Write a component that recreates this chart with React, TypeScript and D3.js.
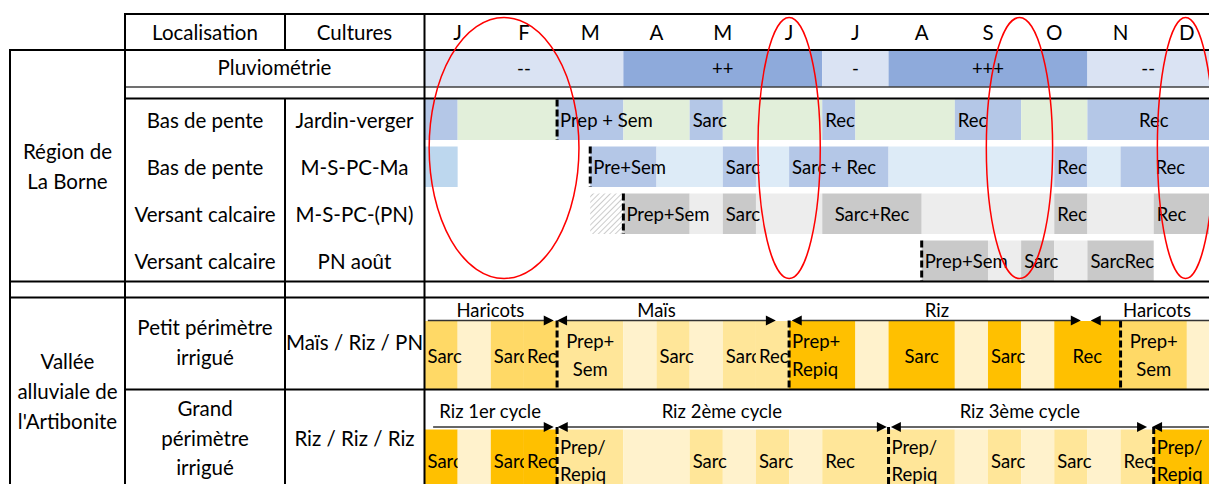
import React from 'react';
import * as d3 from 'd3';

// ---- data (positions in half-months: 0 = early January, 24 = end of December)

const months = ['J', 'F', 'M', 'A', 'M', 'J', 'J', 'A', 'S', 'O', 'N', 'D'];

// [start, end, level, label]
const rainfall: [number, number, string, string][] = [
  [0, 6, 'low', '--'],
  [6, 12, 'high', '++'],
  [12, 14, 'low', '-'],
  [14, 20, 'high', '+++'],
  [20, 24, 'low', '--'],
];

// [start, end, kind, label, centered]
type Cell = [number, number, string, string?, boolean?];

const jardinVerger: Cell[] = [
  [0, 1, 'op'], [1, 4, 'grow'], [4, 6, 'op', 'Prep + Sem'], [6, 8, 'grow'],
  [8, 9, 'op', 'Sarc'], [9, 12, 'grow'], [12, 13, 'op', 'Rec'], [13, 16, 'grow'],
  [16, 18, 'op', 'Rec'], [18, 20, 'grow'], [20, 24, 'op', 'Rec', true],
];

const msPcMa: Cell[] = [
  [0, 1, 'prev'], [5, 7, 'op', 'Pre+Sem'], [7, 9, 'grow'], [9, 10, 'op', 'Sarc'],
  [10, 11, 'grow'], [11, 14, 'op', 'Sarc + Rec'], [14, 19, 'grow'], [19, 20, 'op', 'Rec'],
  [20, 21, 'grow'], [21, 24, 'op', 'Rec', true],
];

const msPcPn: Cell[] = [
  [5, 6, 'fallow'], [6, 8, 'op', 'Prep+Sem'], [8, 9, 'grow'], [9, 10, 'op', 'Sarc'],
  [10, 12, 'grow'], [12, 15, 'op', 'Sarc+Rec', true], [15, 19, 'grow'], [19, 20, 'op', 'Rec'],
  [20, 22, 'grow'], [22, 24, 'op', 'Rec'],
];

const pnAout: Cell[] = [
  [15, 17, 'op', 'Prep+Sem'], [17, 18, 'grow'], [18, 19, 'op', 'Sarc'], [19, 20, 'grow'],
  [20, 22, 'op', 'SarcRec'],
];

const petitPerimetre: Cell[] = [
  [0, 1, 'har', 'Sarc'], [1, 2, 'gap'], [2, 3, 'har', 'Sarc'], [3, 4, 'har', 'Rec'],
  [4, 6, 'mais', 'Prep+\nSem', true], [6, 7, 'gap'], [7, 8, 'mais', 'Sarc'], [8, 9, 'gap'],
  [9, 10, 'mais', 'Sarc'], [10, 11, 'mais', 'Rec'],
  [11, 13, 'riz', 'Prep+\nRepiq'], [13, 14, 'gap'], [14, 16, 'riz', 'Sarc', true], [16, 17, 'gap'],
  [17, 18, 'riz', 'Sarc'], [18, 19, 'gap'], [19, 21, 'riz', 'Rec', true],
  [21, 23, 'har', 'Prep+\nSem', true], [23, 24, 'gap'],
];

const grandPerimetre: Cell[] = [
  [0, 1, 'riz', 'Sarc'], [1, 2, 'gap', ' '], [2, 3, 'riz', 'Sarc'], [3, 4, 'riz', 'Rec'],
  [4, 6, 'rizB', 'Prep/\nRepiq'], [6, 8, 'gap'], [8, 9, 'rizB', 'Sarc'], [9, 10, 'gap'],
  [10, 11, 'rizB', 'Sarc'], [11, 12, 'gap'], [12, 14, 'rizB', 'Rec'],
  [14, 16, 'rizB', 'Prep/\nRepiq'], [16, 17, 'gap'], [17, 18, 'rizB', 'Sarc'], [18, 19, 'gap'],
  [19, 20, 'rizB', 'Sarc'], [20, 21, 'gap'], [21, 22, 'rizB', 'Rec'],
  [22, 24, 'riz', 'Prep/\nRepiq'],
];

// crop cycle arrows: [from, to, label, label centre, heads]
type Arrow = [number, number, string, number, string];
const petitCycles: Arrow[] = [
  [0.1, 3.9, 'Haricots', 1.99, 'r'],
  [4.0, 10.6, 'Maïs', 7.0, 'lr'],
  [11.08, 19.8, 'Riz', 15.46, 'lr'],
  [20.1, 24, 'Haricots', 22.1, 'l'],
];
const grandCycles: Arrow[] = [
  [0.26, 3.9, 'Riz 1er cycle', 1.98, 'r'],
  [4.02, 13.95, 'Riz 2ème cycle', 8.97, 'lr'],
  [14.07, 21.8, 'Riz 3ème cycle', 17.96, 'lr'],
  [21.95, 24, '', 0, 'l'],
];

// highlighted periods: [centre, half width]
const highlights: [number, number][] = [
  [2.4, 2.26],
  [11.0, 0.94],
  [17.95, 1.0],
  [22.96, 0.85],
];

const borneRows = [
  { loc: 'Bas de pente', crop: 'Jardin-verger', cells: jardinVerger, sow: 4 },
  { loc: 'Bas de pente', crop: 'M-S-PC-Ma', cells: msPcMa, sow: 5 },
  { loc: 'Versant calcaire', crop: 'M-S-PC-(PN)', cells: msPcPn, sow: 6 },
  { loc: 'Versant calcaire', crop: 'PN août', cells: pnAout, sow: 15 },
];

const artiRows = [
  { loc: ['Petit périmètre', 'irrigué'], crop: 'Maïs / Riz / PN', cells: petitPerimetre, cycles: petitCycles, sow: [4, 11, 21] },
  { loc: ['Grand', 'périmètre', 'irrigué'], crop: 'Riz / Riz / Riz', cells: grandPerimetre, cycles: grandCycles, sow: [4, 14, 22] },
];

// ---- styles / layout

const W = 1209;
const H = 484;
const FONT = 'Lato, "Open Sans", sans-serif';
const LABEL_SIZE = 20.5;
const CELL_SIZE = 18.5;

const rainColor: Record<string, string> = { low: '#dae3f3', high: '#8eaadb' };
const borneTones = [
  { op: '#b4c7e7', grow: '#e2efda' },
  { op: '#b4c7e7', grow: '#ddebf7', prev: '#bdd7ee' },
  { op: '#c9c9c9', grow: '#ededed', fallow: 'url(#hatch)' },
  { op: '#c9c9c9', grow: '#ededed' },
];
const artiColor: Record<string, string> = {
  har: '#ffd966', mais: '#ffe699', riz: '#ffc000', rizB: '#ffe699', gap: '#fff2cc',
};

const x = d3.scaleLinear().domain([0, 24]).range([424.5, 1220]);

const borneTop = (i: number) => 99.5 + i * 47;
const BORNE_H = 40.5;
const artiLayout = [
  { top: 321, bottom: 389, arrowY: 320.5, labelY: 316.5, single: 363, lines: [348, 376], locY: [335, 365], cropY: 350 },
  { top: 429.5, bottom: 500, arrowY: 427, labelY: 418, single: 468, lines: [454, 481], locY: [416, 446, 475], cropY: 446 },
];

function CellText({ cells, i, row, top, base, lines, id }: any) {
  const c: Cell = cells[i];
  const [s, e, , label, mid] = c;
  if (!label || !label.trim()) return null;
  const parts = label.split('\n');
  const next = cells.slice(i + 1).find((d: Cell) => d[3] !== undefined);
  const clipEnd = next ? x(next[0]) : W;
  const tx = mid ? (x(s) + x(e)) / 2 : x(s) + 3;
  const ys = parts.length > 1 ? lines : [base];
  const clipId = `clip-${id}-${row}-${i}`;
  return (
    <g>
      {!mid && (
        <clipPath id={clipId}>
          <rect x={x(s)} y={top - 30} width={clipEnd - x(s)} height={120} />
        </clipPath>
      )}
      <text
        x={tx}
        textAnchor={mid ? 'middle' : 'start'}
        fontSize={CELL_SIZE}
        clipPath={mid ? undefined : `url(#${clipId})`}
      >
        {parts.map((p: string, k: number) => (
          <tspan key={k} x={tx} y={ys[k]}>{p}</tspan>
        ))}
      </text>
    </g>
  );
}

function DashLine({ at, y1, y2 }: { at: number; y1: number; y2: number }) {
  return (
    <line x1={x(at)} x2={x(at)} y1={y1} y2={y2} stroke="#000" strokeWidth={3} strokeDasharray="7,3" />
  );
}

export default function App() {
  const thick = { stroke: '#000', strokeWidth: 2 };
  return (
    <svg
      width={W}
      height={H}
      style={{ position: 'absolute', left: 0, top: 0, background: '#fff' }}
      fontFamily={FONT}
    >
      <defs>
        <pattern id="hatch" width={4} height={4} patternUnits="userSpaceOnUse" patternTransform="rotate(45)">
          <rect width={4} height={4} fill="#fff" />
          <line x1={0} y1={0} x2={0} y2={4} stroke="#b0b0b0" strokeWidth={1.3} />
        </pattern>
      </defs>

      {/* header */}
      <g fontSize={LABEL_SIZE} textAnchor="middle">
        <text x={205} y={40}>Localisation</text>
        <text x={354.5} y={40}>Cultures</text>
        {months.map((m, i) => (
          <text key={i} x={x(2 * i + 1)} y={40}>{m}</text>
        ))}
      </g>

      {/* rainfall */}
      {rainfall.map(([s, e, lvl, lab], i) => (
        <g key={i}>
          <rect x={x(s)} y={50.5} width={x(e) - x(s)} height={36.5} fill={rainColor[lvl]} />
          <text x={(x(s) + Math.min(x(e), W)) / 2} y={75} textAnchor="middle" fontSize={CELL_SIZE}>{lab}</text>
        </g>
      ))}
      <text x={274.5} y={75} textAnchor="middle" fontSize={LABEL_SIZE}>Pluviométrie</text>

      {/* La Borne */}
      <g fontSize={LABEL_SIZE} textAnchor="middle">
        <text x={67.5} y={158.5}>Région de</text>
        <text x={67.5} y={188.5}>La Borne</text>
      </g>
      {borneRows.map((r, ri) => {
        const top = borneTop(ri);
        const tone: any = borneTones[ri];
        return (
          <g key={ri}>
            <text x={205} y={top + 28.5} textAnchor="middle" fontSize={LABEL_SIZE}>{r.loc}</text>
            <text x={354.5} y={top + 28.5} textAnchor="middle" fontSize={LABEL_SIZE}>{r.crop}</text>
            {r.cells.map((c, i) => (
              <rect key={i} x={x(c[0])} y={top} width={x(c[1]) - x(c[0])} height={BORNE_H} fill={tone[c[2]]} />
            ))}
            {r.cells.map((c, i) => (
              <CellText key={i} cells={r.cells} i={i} row={ri} top={top} base={top + 27} id="b" />
            ))}
            <DashLine at={r.sow} y1={top} y2={top + BORNE_H} />
          </g>
        );
      })}

      {/* Artibonite */}
      <g fontSize={LABEL_SIZE} textAnchor="middle">
        <text x={67.5} y={369}>Vallée</text>
        <text x={67.5} y={399}>alluviale de</text>
        <text x={67.5} y={429}>l'Artibonite</text>
      </g>
      {artiRows.map((r, ri) => {
        const L = artiLayout[ri];
        return (
          <g key={ri}>
            {r.loc.map((t, k) => (
              <text key={k} x={205} y={L.locY[k]} textAnchor="middle" fontSize={LABEL_SIZE}>{t}</text>
            ))}
            <text x={354.5} y={L.cropY} textAnchor="middle" fontSize={LABEL_SIZE}>{r.crop}</text>
            {r.cells.map((c, i) => (
              <rect key={i} x={x(c[0])} y={L.top} width={x(c[1]) - x(c[0])} height={L.bottom - L.top} fill={artiColor[c[2]]} />
            ))}
            {r.cells.map((c, i) => (
              <CellText key={i} cells={r.cells} i={i} row={ri} top={L.top} base={L.single} lines={L.lines} id="a" />
            ))}
            {r.sow.map((s, k) => (
              <DashLine key={k} at={s} y1={L.arrowY} y2={L.bottom} />
            ))}
            {r.cycles.map(([a, b, lab, lc, heads], k) => {
              const x1 = x(a);
              const x2 = Math.min(x(b), W + 20);
              const y = L.arrowY;
              return (
                <g key={k}>
                  <line x1={heads.includes('l') ? x1 + 8 : x1} x2={heads.includes('r') ? x2 - 8 : x2} y1={y} y2={y} stroke="#333" strokeWidth={1.5} />
                  {heads.includes('r') && <polygon points={`${x2},${y} ${x2 - 10},${y - 5} ${x2 - 10},${y + 5}`} fill="#000" />}
                  {heads.includes('l') && <polygon points={`${x1},${y} ${x1 + 10},${y - 5} ${x1 + 10},${y + 5}`} fill="#000" />}
                  {lab && <text x={x(lc)} y={L.labelY} textAnchor="middle" fontSize={CELL_SIZE}>{lab}</text>}
                </g>
              );
            })}
          </g>
        );
      })}

      {/* grid lines */}
      <line x1={125} x2={W} y1={14} y2={14} {...thick} />
      <line x1={10} x2={W} y1={50} y2={50} {...thick} />
      <line x1={125} x2={W} y1={87} y2={87} stroke="#404040" strokeWidth={1.3} />
      <line x1={125} x2={W} y1={98.5} y2={98.5} {...thick} />
      <line x1={10} x2={W} y1={281.5} y2={281.5} {...thick} />
      <line x1={10} x2={W} y1={297.5} y2={297.5} {...thick} />
      <line x1={125} x2={W} y1={389.5} y2={389.5} {...thick} />
      <line x1={10} x2={10} y1={49} y2={H} {...thick} />
      <line x1={125} x2={125} y1={13} y2={H} {...thick} />
      <line x1={285} x2={285} y1={13} y2={50} {...thick} />
      <line x1={285} x2={285} y1={98.5} y2={H} {...thick} />
      <line x1={424.5} x2={424.5} y1={13} y2={H} {...thick} />

      {/* highlighted periods */}
      {highlights.map(([c, hw], i) => (
        <ellipse key={i} cx={x(c)} cy={148} rx={x(c + hw) - x(c)} ry={130.5} fill="none" stroke="#ff0000" strokeWidth={1.5} />
      ))}
    </svg>
  );
}
